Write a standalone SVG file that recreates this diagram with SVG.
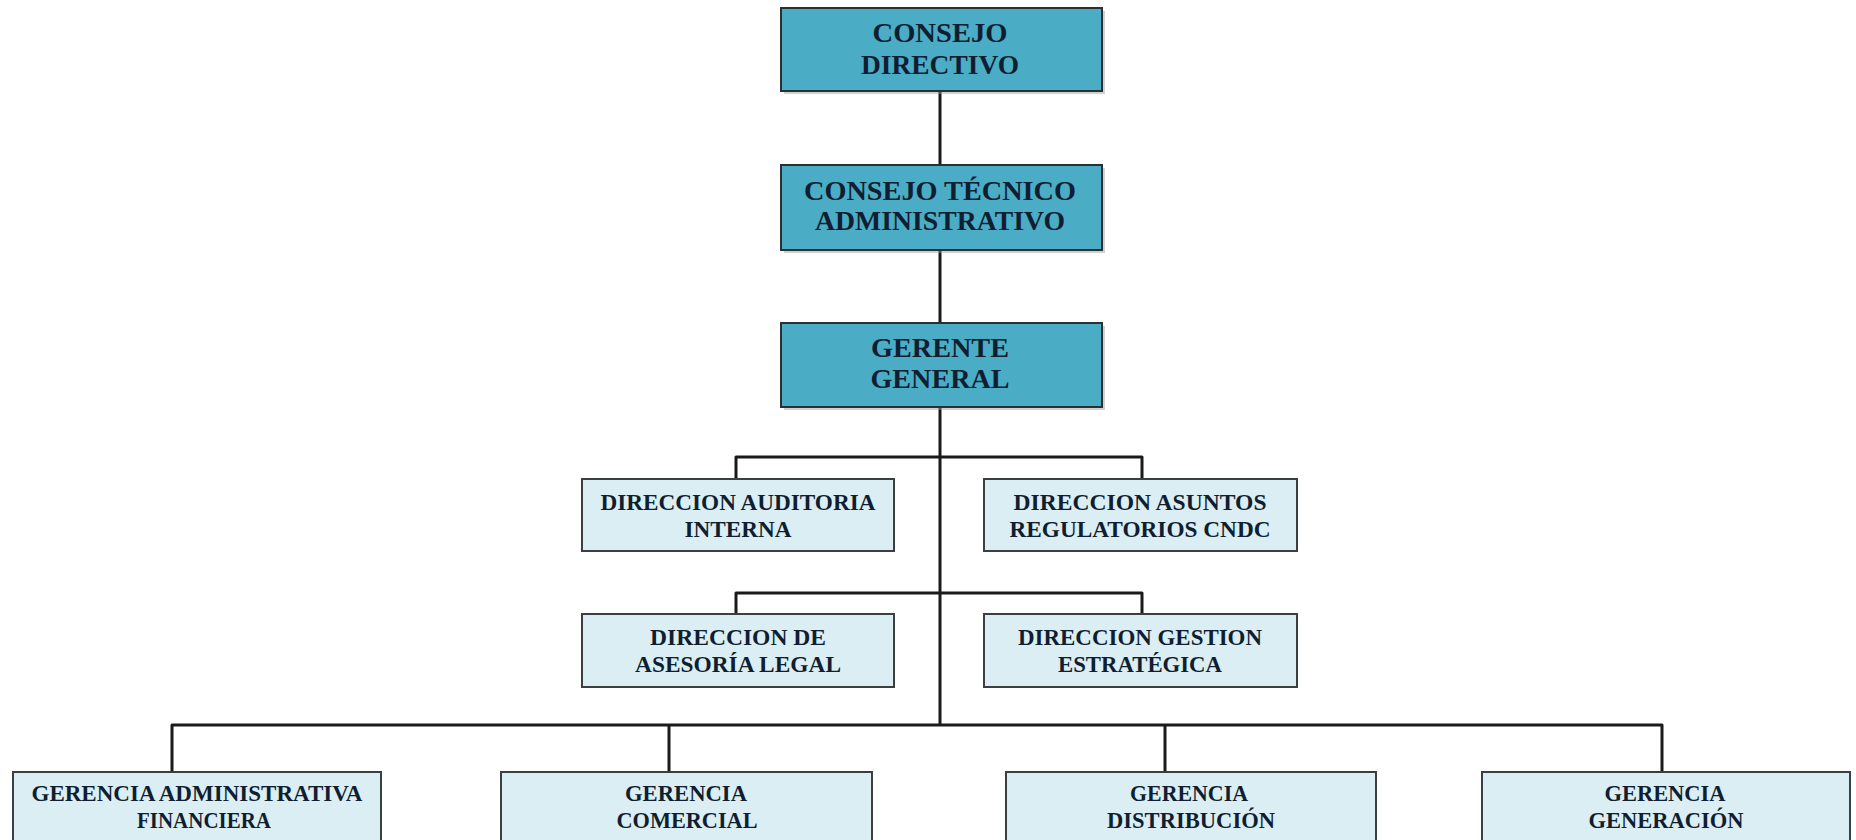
<svg xmlns="http://www.w3.org/2000/svg" width="1856" height="840" viewBox="0 0 1856 840">
<defs>
<style>
.top{fill:#4bacc6;stroke:#2a2f33;stroke-width:2}
.shadow{fill:#9a9a9a;opacity:0.45}
.sub{fill:#dbeef4;stroke:#3a3f42;stroke-width:2}
.t{font-family:"Liberation Serif","Times New Roman",serif;font-weight:bold;fill:#0f1e30;text-anchor:middle}
.t1{font-size:28px}
.t2{font-size:23px}
.t3{font-size:23px}
.conn{fill:none;stroke:#1a1a1a;stroke-width:3;stroke-linejoin:round}
</style>
</defs>
<rect width="1856" height="840" fill="#ffffff"/>
<g id="connectors">
<path class="conn" d="M940 91 V167"/>
<path class="conn" d="M940 250 V323"/>
<path class="conn" d="M940 407 V725"/>
<path class="conn" d="M736 479 V457 H1142 V479"/>
<path class="conn" d="M736 614 V593 H1142 V614"/>
<path class="conn" d="M172 772 V725 H1662 V772"/>
<path class="conn" d="M669 725 V772"/>
<path class="conn" d="M1165 725 V772"/>
</g>
<g id="consejo-directivo">
<rect class="shadow" x="784" y="11" width="321" height="83"/>
<rect class="top" x="781" y="8" width="321" height="83"/>
<text class="t t1" x="940" y="42" textLength="135" lengthAdjust="spacingAndGlyphs">CONSEJO</text>
<text class="t t1" x="940" y="74" textLength="158" lengthAdjust="spacingAndGlyphs">DIRECTIVO</text>
</g>
<g id="consejo-tecnico">
<rect class="shadow" x="784" y="168" width="321" height="85"/>
<rect class="top" x="781" y="165" width="321" height="85"/>
<text class="t t1" x="940" y="200" textLength="272" lengthAdjust="spacingAndGlyphs">CONSEJO TÉCNICO</text>
<text class="t t1" x="940" y="230" textLength="250" lengthAdjust="spacingAndGlyphs">ADMINISTRATIVO</text>
</g>
<g id="gerente-general">
<rect class="shadow" x="784" y="326" width="321" height="84"/>
<rect class="top" x="781" y="323" width="321" height="84"/>
<text class="t t1" x="940" y="357" textLength="138" lengthAdjust="spacingAndGlyphs">GERENTE</text>
<text class="t t1" x="940" y="388" textLength="139" lengthAdjust="spacingAndGlyphs">GENERAL</text>
</g>
<g id="dir-auditoria">
<rect class="sub" x="582" y="479" width="312" height="72"/>
<text class="t t2" x="738" y="510" textLength="275" lengthAdjust="spacingAndGlyphs">DIRECCION AUDITORIA</text>
<text class="t t2" x="738" y="537" textLength="107" lengthAdjust="spacingAndGlyphs">INTERNA</text>
</g>
<g id="dir-asuntos">
<rect class="sub" x="984" y="479" width="313" height="72"/>
<text class="t t2" x="1140" y="510" textLength="253" lengthAdjust="spacingAndGlyphs">DIRECCION ASUNTOS</text>
<text class="t t2" x="1140" y="537" textLength="261" lengthAdjust="spacingAndGlyphs">REGULATORIOS CNDC</text>
</g>
<g id="dir-legal">
<rect class="sub" x="582" y="614" width="312" height="73"/>
<text class="t t2" x="738" y="645" textLength="176" lengthAdjust="spacingAndGlyphs">DIRECCION DE</text>
<text class="t t2" x="738" y="672" textLength="206" lengthAdjust="spacingAndGlyphs">ASESORÍA LEGAL</text>
</g>
<g id="dir-gestion">
<rect class="sub" x="984" y="614" width="313" height="73"/>
<text class="t t2" x="1140" y="645" textLength="244" lengthAdjust="spacingAndGlyphs">DIRECCION GESTION</text>
<text class="t t2" x="1140" y="672" textLength="164" lengthAdjust="spacingAndGlyphs">ESTRATÉGICA</text>
</g>
<g id="ger-administrativa">
<rect class="sub" x="13" y="772" width="368" height="90"/>
<text class="t t3" x="197" y="801" textLength="331" lengthAdjust="spacingAndGlyphs">GERENCIA ADMINISTRATIVA</text>
<text class="t t3" x="204" y="828" textLength="134" lengthAdjust="spacingAndGlyphs">FINANCIERA</text>
</g>
<g id="ger-comercial">
<rect class="sub" x="501" y="772" width="371" height="90"/>
<text class="t t3" x="686" y="801" textLength="122" lengthAdjust="spacingAndGlyphs">GERENCIA</text>
<text class="t t3" x="687" y="828" textLength="141" lengthAdjust="spacingAndGlyphs">COMERCIAL</text>
</g>
<g id="ger-distribucion">
<rect class="sub" x="1006" y="772" width="370" height="90"/>
<text class="t t3" x="1189" y="801" textLength="118" lengthAdjust="spacingAndGlyphs">GERENCIA</text>
<text class="t t3" x="1191" y="828" textLength="168" lengthAdjust="spacingAndGlyphs">DISTRIBUCIÓN</text>
</g>
<g id="ger-generacion">
<rect class="sub" x="1482" y="772" width="368" height="90"/>
<text class="t t3" x="1665" y="801" textLength="121" lengthAdjust="spacingAndGlyphs">GERENCIA</text>
<text class="t t3" x="1666" y="828" textLength="155" lengthAdjust="spacingAndGlyphs">GENERACIÓN</text>
</g>
</svg>
